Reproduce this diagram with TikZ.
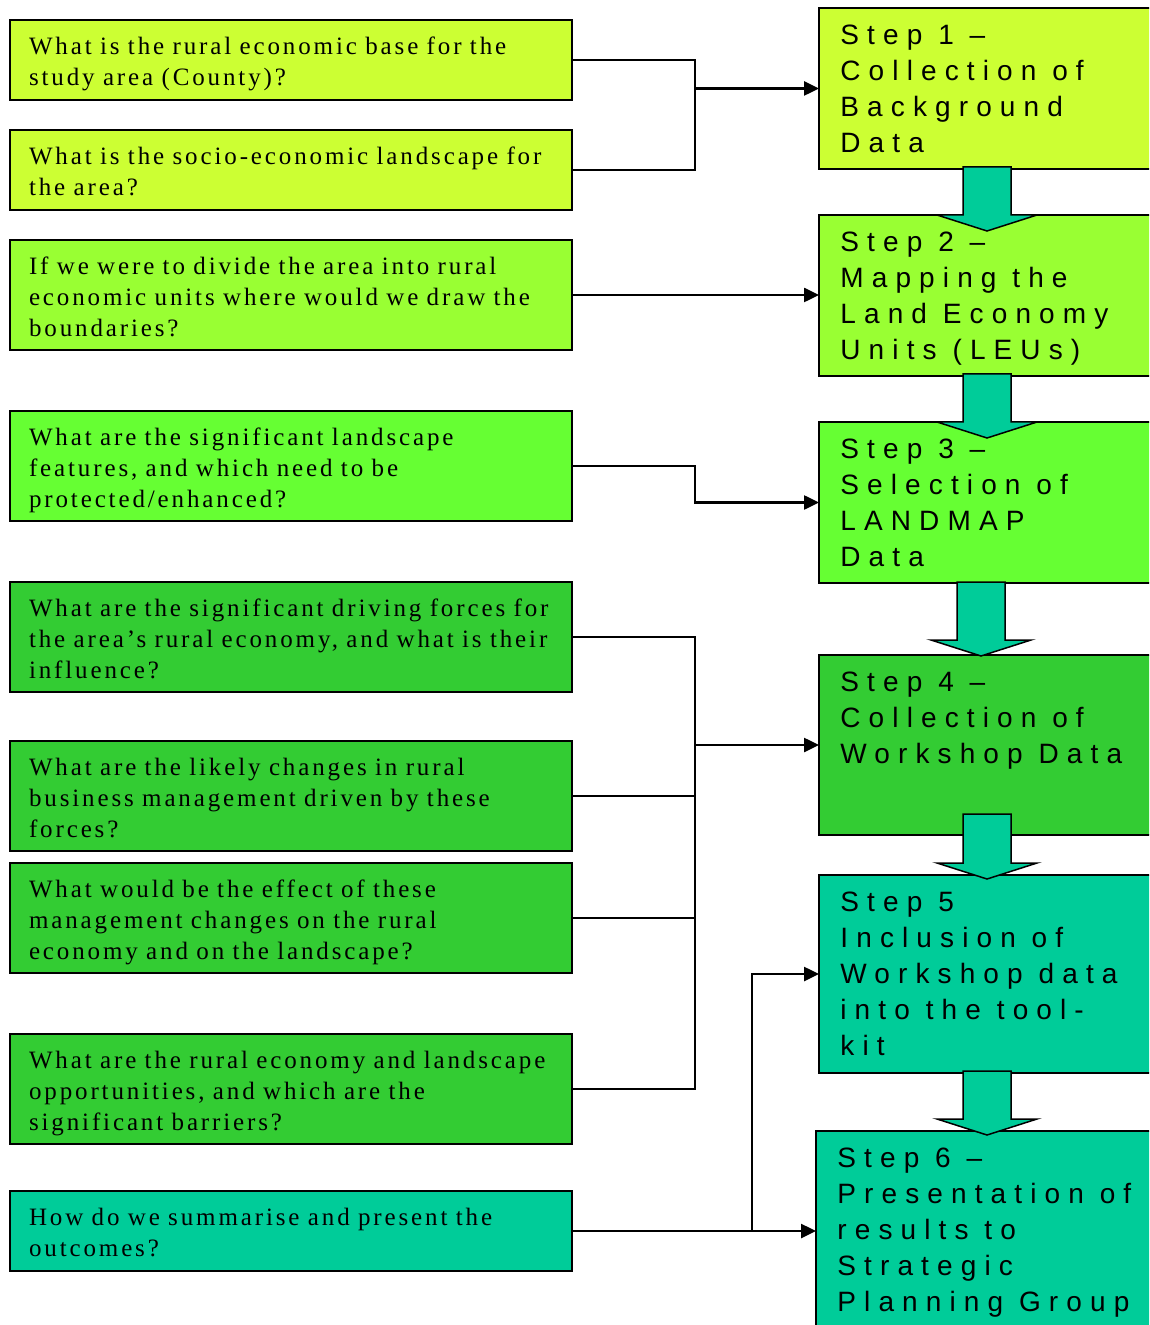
\documentclass[tikz,border=0pt]{standalone}
\usepackage{fontspec}
\newfontfamily\qfont[LetterSpace=11.5]{Liberation Serif}
\newfontfamily\sfont[LetterSpace=29]{Liberation Sans}
\usetikzlibrary{arrows.meta,calc,positioning}
\definecolor{yg}{RGB}{204,255,51}
\definecolor{lg}{RGB}{153,255,51}
\definecolor{bg}{RGB}{102,255,51}
\definecolor{mg}{RGB}{51,204,51}
\definecolor{tq}{RGB}{0,204,153}
\tikzstyle{qbox} = [draw, line width=0.75pt, outer sep=0pt, anchor=north west,
  text width=262pt, inner xsep=9.5pt, inner ysep=0pt, align=left, minimum height=40pt,
  font=\qfont\fontsize{12.5pt}{15.5pt}\selectfont,
  execute at begin node={\rule{0pt}{15pt}}, execute at end node={\strut}]
\tikzstyle{stepbox} = [draw, line width=0.75pt, outer sep=0pt, anchor=north west,
  inner sep=0pt, minimum width=170pt, minimum height=80.5pt]
\tikzstyle{steptext} = [anchor=north west, align=left, inner xsep=10.5pt,
  inner ysep=8.5pt, font=\sfont\fontsize{14pt}{18pt}\selectfont]
\tikzstyle{conn} = [line width=1.25pt]
\tikzstyle{bigarrow} = [fill=tq, draw=black, line width=0.75pt, line join=miter]
% block arrow: from, to, x offset, shaft top offset, tip offset
\newcommand{\flowarrow}[5]{%
  \filldraw[bigarrow] ($(#1.south west |- #2.north)+(#3,#5)$) coordinate (tip)
    -- ++(50,-16) -- ++(-26,0) -- ($(#1.south west)+(#3+24,#4)$)
    -- ++(-48,0) -- ($(tip)+(-24,-16)$) -- ++(-26,0) -- cycle;}

\begin{document}
\begin{tikzpicture}[x=0.5pt, y=-0.5pt, >={Triangle[length=7.5pt,width=7pt]}]
  \useasboundingbox (0,0) rectangle (1149,1325);
  \clip (0,0) rectangle (1149,1325);

  \node[qbox, fill=yg] (q1) at (10,20)
    {What is the rural economic base for the\\study area (County)?};
  \node[qbox, fill=yg, below=15pt of q1] (q2)
    {What is the socio-economic landscape for\\the area?};
  \node[qbox, fill=lg, minimum height=55pt, below=15pt of q2] (q3)
    {If we were to divide the area into rural\\economic units where would we draw the\\boundaries?};
  \node[qbox, fill=bg, minimum height=55pt, below=30.5pt of q3] (q4)
    {What are the significant landscape\\features, and which need to be\\protected/enhanced?};
  \node[qbox, fill=mg, minimum height=55pt, below=30.5pt of q4] (q5)
    {What are the significant driving forces for\\the area’s rural economy, and what is their\\influence?};
  \node[qbox, fill=mg, minimum height=55pt, below=24.5pt of q5] (q6)
    {What are the likely changes in rural\\business management driven by these\\forces?};
  \node[qbox, fill=mg, minimum height=55pt, below=6pt of q6] (q7)
    {What would be the effect of these\\management changes on the rural\\economy and on the landscape?};
  \node[qbox, fill=mg, minimum height=55pt, below=30.5pt of q7] (q8)
    {What are the rural economy and landscape\\opportunities, and which are the\\significant barriers?};
  \node[qbox, fill=tq, below=23.5pt of q8] (q9)
    {How do we summarise and present the\\outcomes?};

  \node[stepbox, fill=yg] (s1) at (819,8) {};
  \node[steptext] (s1t) at (s1.north west) {Step 1 –\\Collection of\\Background\\Data};
  \node[stepbox, fill=lg, below=23pt of s1] (s2) {};
  \node[steptext] (s2t) at (s2.north west) {Step 2 –\\Mapping the\\Land Economy\\Units (LEUs)};
  \node[stepbox, fill=bg, below=23pt of s2] (s3) {};
  \node[steptext] (s3t) at (s3.north west) {Step 3 –\\Selection of\\LANDMAP\\Data};
  \node[stepbox, fill=mg, minimum height=90pt, below=36pt of s3] (s4) {};
  \node[steptext] (s4t) at (s4.north west) {Step 4 –\\Collection of\\Workshop Data};
  \node[stepbox, fill=tq, minimum height=99pt, below=20pt of s4] (s5) {};
  \node[steptext] (s5t) at (s5.north west) {Step 5\\Inclusion of\\Workshop data\\into the tool-\\kit};
  \node[stepbox, fill=tq, minimum height=99pt, below=29pt of s5, xshift=-1.5pt] (s6) {};
  \node[steptext] (s6t) at (s6.north west) {Step 6 –\\Presentation of\\results to\\Strategic\\Planning Group};

  \flowarrow{s1}{s2}{168}{-2}{16}
  \flowarrow{s2}{s3}{168}{-2}{16}
  \flowarrow{s3}{s4}{162}{-1}{1}
  \flowarrow{s4}{s5}{168}{-21}{4}
  \flowarrow{s5}{s6}{168}{-2}{4}

  \coordinate (j1) at (695,0);
  \coordinate (j2) at (752,0);
  \draw[conn] (q1.east) -- (q1.east -| j1) -- (q2.east -| j1) -- (q2.east);
  \draw[conn, ->] (j1 |- s1.west) -- (s1.west);
  \draw[conn, ->] (q3.east) -- (q3.east -| s2.west);
  \draw[conn, ->] (q4.east) -- (q4.east -| j1) |- (s3.west);
  \draw[conn] (q5.east) -- (q5.east -| j1) -- (q8.east -| j1) -- (q8.east);
  \draw[conn] (q6.east) -- (q6.east -| j1);
  \draw[conn] (q7.east) -- (q7.east -| j1);
  \draw[conn, ->] (j1 |- s4.west) -- (s4.west);
  \draw[conn, ->] (q9.east) -- (q9.east -| s6.west);
  \draw[conn, ->] (q9.east -| j2) |- (s5.west);
\end{tikzpicture}
\end{document}
